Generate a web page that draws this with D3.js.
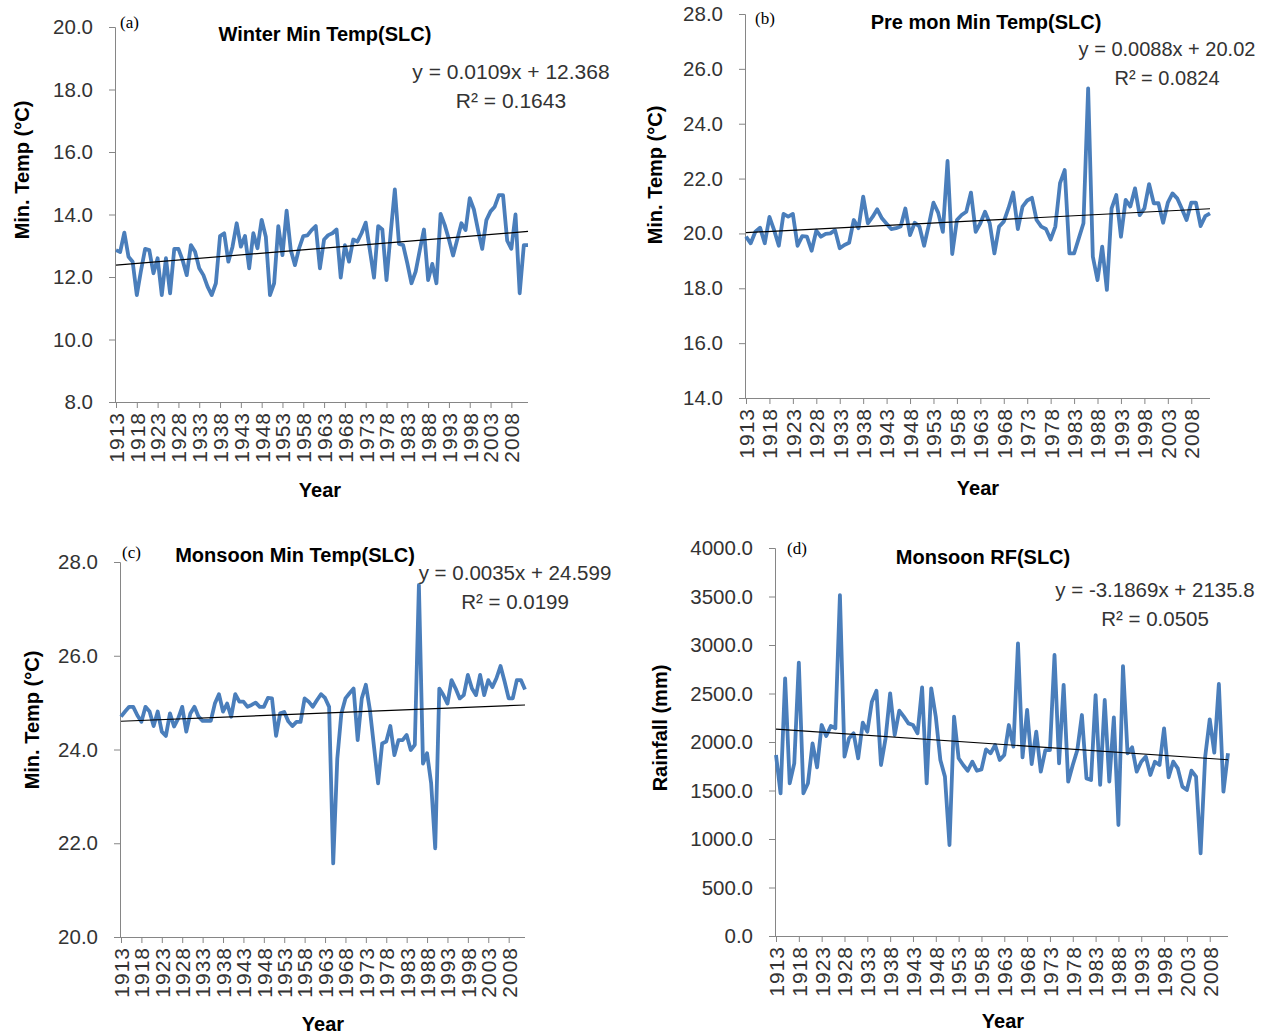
<!DOCTYPE html>
<html>
<head>
<meta charset="utf-8">
<script src="https://cdn.jsdelivr.net/npm/d3@7"></script>
<style>
  body { margin: 0; background: #fff; }
  text { font-family: "Liberation Sans", Arial, sans-serif; }
</style>
</head>
<body>
<div id="chart"></div>
<script>
// Years on the category axis and the labelled ones
var years = d3.range(1913, 2013);
var tickYears = [1913, 1918, 1923, 1928, 1933, 1938, 1943, 1948, 1953, 1958,
                 1963, 1968, 1973, 1978, 1983, 1988, 1993, 1998, 2003, 2008];

// (a) Winter min temperature
var winterMin = [12.86, 12.8, 13.42, 12.65, 12.49, 11.42, 12.2, 12.9, 12.86, 12.12,
  12.6, 11.42, 12.6, 11.48, 12.9, 12.9, 12.54, 12.06, 13.02, 12.81,
  12.28, 12.06, 11.69, 11.42, 11.8, 13.31, 13.4, 12.49, 12.97, 13.72,
  12.97, 13.31, 12.28, 13.4, 12.92, 13.83, 13.29, 11.42, 11.8, 13.63,
  12.7, 14.12, 12.86, 12.38, 12.92, 13.31, 13.33, 13.5, 13.63, 12.28,
  13.2, 13.34, 13.4, 13.52, 11.98, 13.02, 12.49, 13.2, 13.13, 13.4,
  13.74, 12.86, 11.98, 13.63, 13.52, 11.9, 13.4, 14.8, 13.06, 13.02,
  12.44, 11.8, 12.17, 12.86, 13.52, 11.9, 12.42, 11.8, 14.02, 13.66,
  13.2, 12.69, 13.2, 13.72, 13.5, 14.52, 14.16, 13.5, 12.9, 13.82,
  14.1, 14.25, 14.62, 14.62, 13.16, 12.9, 14.0, 11.48, 13.02, 13.02];

// (b) Pre monsoon min temperature
var preMonMin = [19.88, 19.64, 20.06, 20.21, 19.64, 20.6, 20.12, 19.55, 20.71, 20.61,
  20.71, 19.55, 19.9, 19.88, 19.37, 20.1, 19.88, 19.98, 20.0, 20.12,
  19.46, 19.58, 19.66, 20.49, 20.19, 21.34, 20.37, 20.6, 20.88, 20.55,
  20.35, 20.16, 20.19, 20.25, 20.91, 19.94, 20.39, 20.25, 19.55, 20.3,
  21.12, 20.76, 20.06, 22.64, 19.25, 20.49, 20.67, 20.79, 21.49, 20.06,
  20.37, 20.79, 20.37, 19.27, 20.25, 20.43, 20.92, 21.49, 20.16, 20.98,
  21.2, 21.3, 20.49, 20.25, 20.16, 19.78, 20.25, 21.83, 22.31, 19.27,
  19.27, 19.82, 20.37, 25.29, 19.15, 18.3, 19.52, 17.94, 20.91, 21.4,
  19.88, 21.22, 20.98, 21.64, 20.67, 20.91, 21.8, 21.1, 21.1, 20.39,
  21.12, 21.46, 21.28, 20.9, 20.49, 21.12, 21.12, 20.27, 20.63, 20.73];

// (c) Monsoon min temperature
var monsoonMin = [24.7, 24.81, 24.91, 24.91, 24.73, 24.59, 24.91, 24.81, 24.5, 24.81,
  24.38, 24.29, 24.77, 24.49, 24.66, 24.91, 24.38, 24.77, 24.91, 24.7,
  24.61, 24.61, 24.61, 24.98, 25.18, 24.81, 24.98, 24.7, 25.18, 25.02,
  25.02, 24.91, 24.95, 25.0, 24.91, 24.91, 25.1, 25.09, 24.29, 24.77,
  24.8, 24.6, 24.5, 24.59, 24.59, 25.09, 25.02, 24.91, 25.05, 25.18,
  25.1, 24.91, 21.57, 23.8, 24.77, 25.09, 25.2, 25.3, 24.2, 25.09,
  25.38, 24.84, 24.06, 23.28, 24.13, 24.17, 24.5, 23.88, 24.2, 24.2,
  24.31, 23.99, 24.1, 27.51, 23.7, 23.92, 23.28, 21.89, 25.3, 25.16,
  24.98, 25.48, 25.3, 25.09, 25.16, 25.59, 25.3, 25.16, 25.59, 25.16,
  25.48, 25.33, 25.52, 25.78, 25.45, 25.09, 25.09, 25.48, 25.48, 25.28];

// (d) Monsoon rainfall (mm)
var monsoonRF = [1866, 1471, 2656, 1574, 1780, 2818, 1471, 1574, 1986, 1739,
  2175, 2062, 2165, 2141, 3515, 1849, 2038, 2089, 1832, 2199,
  2106, 2416, 2529, 1763, 2038, 2502, 2072, 2323, 2261, 2192,
  2175, 2089, 2563, 1574, 2553, 2261, 1814, 1643, 938, 2261,
  1832, 1763, 1704, 1797, 1704, 1718, 1924, 1883, 1969, 1814,
  1866, 2175, 1952, 3017, 1842, 2330, 1773, 2106, 1694, 1917,
  1917, 2897, 1780, 2588, 1591, 1763, 1917, 2278, 1625, 1608,
  2484, 1557, 2433, 1591, 2254, 1144, 2783, 1883, 1945, 1694,
  1797, 1849, 1660, 1797, 1763, 2141, 1636, 1797, 1728, 1540,
  1505, 1704, 1643, 852, 1849, 2234, 1890, 2598, 1488, 1883];

// Trend line coefficients (x = 1..100) and labels
var slopes = [0.0109, 0.0088, 0.0035, -3.1869];
var intercepts = [12.368, 20.02, 24.599, 2135.8];
var eqLabels = ["y = 0.0109x + 12.368", "y = 0.0088x + 20.02", "y = 0.0035x + 24.599", "y = -3.1869x + 2135.8"];
var r2Labels = ["R\u00b2 = 0.1643", "R\u00b2 = 0.0824", "R\u00b2 = 0.0199", "R\u00b2 = 0.0505"];
var titles = ["Winter Min Temp(SLC)", "Pre mon Min Temp(SLC)", "Monsoon Min Temp(SLC)", "Monsoon RF(SLC)"];
var letters = ["(a)", "(b)", "(c)", "(d)"];
var yTitles = ["Min. Temp (\u00b0C)", "Min. Temp (\u00b0C)", "Min. Temp (\u00b0C)", "Rainfall (mm)"];
var yDomains = [[8, 20], [14, 28], [20, 28], [0, 4000]];
var yTicks = [d3.range(8, 20.1, 2), d3.range(14, 28.1, 2), d3.range(20, 28.1, 2), d3.range(0, 4001, 500)];

// Layout of the four panels
var panels = [
  {x0: 116, x1: 528, yTop: 27, yBot: 402, title: [325, 41], letter: [120, 28], eq: [511, 79], eqSize: 21, year: [320, 497], yLab: [22, 170]},
  {x0: 746, x1: 1210, yTop: 14, yBot: 398, title: [986, 29], letter: [755, 24], eq: [1167, 56], eqSize: 20, year: [978, 495], yLab: [655, 175]},
  {x0: 121, x1: 525, yTop: 562, yBot: 937, title: [295, 562], letter: [122, 558], eq: [515, 580], eqSize: 20.5, year: [323, 1031], yLab: [32, 720]},
  {x0: 776, x1: 1228, yTop: 548, yBot: 936, title: [983, 564], letter: [787, 554], eq: [1155, 597], eqSize: 20.5, year: [1003, 1028], yLab: [660, 728]}
];
var series = [winterMin, preMonMin, monsoonMin, monsoonRF];

var svg = d3.select("#chart")
  .append("svg")
  .attr("width", 1266)
  .attr("height", 1036);

var axisColor = "#868686";

panels.forEach(function(p, i) {
  var values = series[i];
  var g = svg.append("g");

  var xScale = d3.scaleLinear().domain([1913, 2012]).range([p.x0, p.x1]);
  var yScale = d3.scaleLinear().domain(yDomains[i]).range([p.yBot, p.yTop]);

  // y axis
  var yAxis = g.append("g")
    .attr("transform", "translate(" + (p.x0 - 1) + ",0)")
    .call(d3.axisLeft(yScale).tickValues(yTicks[i]).tickFormat(d3.format(".1f")).tickSize(6).tickPadding(16));
  yAxis.select(".domain").attr("stroke", axisColor);
  yAxis.selectAll(".tick line").attr("stroke", axisColor);
  yAxis.selectAll(".tick text")
    .attr("fill", "#333")
    .style("font-size", "20.5px")
    .style("font-family", "'Liberation Sans', Arial, sans-serif");

  // x axis
  var xAxis = g.append("g")
    .attr("transform", "translate(0," + p.yBot + ")")
    .call(d3.axisBottom(xScale).tickValues(tickYears).tickFormat(d3.format("d")).tickSize(6).tickSizeOuter(0));
  xAxis.select(".domain").attr("stroke", axisColor).attr("d", "M" + (p.x0 - 1) + ",0.5H" + p.x1);
  xAxis.selectAll(".tick line").attr("stroke", axisColor);
  xAxis.selectAll(".tick text")
    .attr("fill", "#333")
    .style("font-size", "21px")
    .style("letter-spacing", "1px")
    .style("font-family", "'Liberation Sans', Arial, sans-serif")
    .attr("text-anchor", "end")
    .attr("transform", "rotate(-90)")
    .attr("x", -10)
    .attr("y", 0)
    .attr("dy", "0.35em");

  // data line
  var line = d3.line()
    .x(function(d, k) { return xScale(years[k]); })
    .y(function(d) { return yScale(d); });

  g.append("path")
    .datum(values)
    .attr("d", line)
    .attr("fill", "none")
    .attr("stroke", "#4a7ebb")
    .attr("stroke-width", 3.8)
    .attr("stroke-linejoin", "round");

  // linear trend line
  var trend = [0, years.length - 1].map(function(k) {
    return {year: years[k], v: slopes[i] * (k + 1) + intercepts[i]};
  });
  g.append("line")
    .attr("x1", xScale(trend[0].year))
    .attr("y1", yScale(trend[0].v))
    .attr("x2", xScale(trend[1].year))
    .attr("y2", yScale(trend[1].v))
    .attr("stroke", "#000")
    .attr("stroke-width", 1.2);

  // titles and labels
  g.append("text")
    .attr("x", p.title[0]).attr("y", p.title[1])
    .attr("text-anchor", "middle")
    .style("font-size", "20px").style("font-weight", "bold")
    .text(titles[i]);

  g.append("text")
    .attr("x", p.letter[0]).attr("y", p.letter[1])
    .style("font-family", "'Liberation Serif', 'Times New Roman', serif")
    .style("font-size", "17px")
    .text(letters[i]);

  g.append("text")
    .attr("x", p.eq[0]).attr("y", p.eq[1])
    .attr("text-anchor", "middle")
    .attr("fill", "#333")
    .style("font-size", p.eqSize + "px")
    .text(eqLabels[i]);

  g.append("text")
    .attr("x", p.eq[0]).attr("y", p.eq[1] + 29)
    .attr("text-anchor", "middle")
    .attr("fill", "#333")
    .style("font-size", p.eqSize + "px")
    .text(r2Labels[i]);

  g.append("text")
    .attr("x", p.year[0]).attr("y", p.year[1])
    .attr("text-anchor", "middle")
    .style("font-size", "20px").style("font-weight", "bold")
    .text("Year");

  g.append("text")
    .attr("transform", "translate(" + p.yLab[0] + "," + p.yLab[1] + ") rotate(-90)")
    .attr("text-anchor", "middle")
    .attr("dy", "0.35em")
    .style("font-size", "20px").style("font-weight", "bold")
    .text(yTitles[i]);
});
</script>
</body>
</html>
